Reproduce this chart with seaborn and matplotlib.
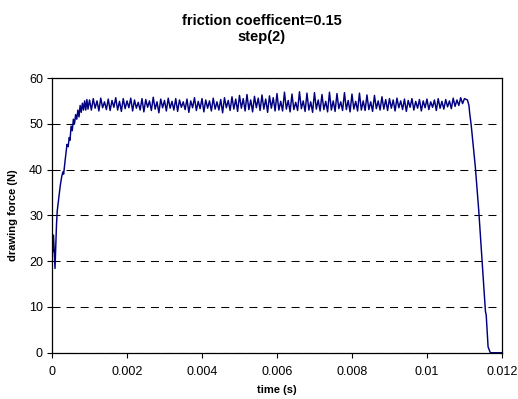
import numpy as np
import seaborn as sns
import matplotlib
matplotlib.use("Agg")
import matplotlib.pyplot as plt
from matplotlib.ticker import FuncFormatter, MultipleLocator

# ---------------------------------------------------------------
# data (time in s, drawing force in N)
# ---------------------------------------------------------------
# start-up ramp
t_ramp = [0, 0.00002, 0.00004, 0.00008, 0.00012, 0.00014, 0.00017, 0.00022,
          0.00026, 0.00029, 0.00031, 0.00035, 0.0004, 0.00043, 0.00046, 0.00048,
          0.00051, 0.00054, 0.00057, 0.0006, 0.00063, 0.00066, 0.00069, 0.00072,
          0.00075, 0.00078, 0.00081, 0.00084, 0.00087, 0.0009, 0.00093, 0.00096]
f_ramp = [27.0, 22.0, 25.7, 18.4, 28.0, 31.0, 33.0, 36.5,
          38.5, 39.5, 39.0, 42.0, 45.5, 45.0, 47.0, 46.4,
          49.5, 48.5, 51.0, 50.0, 52.0, 51.0, 53.0, 51.5,
          54.0, 52.5, 54.5, 53.0, 55.0, 53.0, 55.3, 53.2]

# steady drawing, sampled every 0.00005 s from 0.001 s to 0.011 s
plateau_start = 0.001
plateau_step = 0.00005
f_plateau = [
    55.2, 53.0, 55.5, 53.4, 55.0, 52.8, 55.6, 53.5, 54.8, 53.1,
    55.4, 52.9, 55.1, 53.6, 55.7, 53.0, 54.9, 52.7, 55.5, 53.3,
    55.0, 53.5, 55.6, 52.8, 55.2, 53.4, 54.7, 53.0, 55.5, 52.6,
    55.3, 53.6, 55.0, 52.9, 55.8, 53.2, 54.8, 52.4, 55.4, 53.5,
    55.1, 52.8, 55.6, 53.4, 54.9, 53.0, 55.5, 52.7, 55.2, 53.6,
    54.8, 53.1, 55.4, 52.5, 55.0, 53.5, 55.7, 52.9, 54.9, 53.3,
    55.5, 52.6, 55.2, 53.4, 55.0, 52.8, 55.6, 53.2, 54.8, 53.0,
    55.3, 52.4, 55.7, 53.5, 55.1, 52.9, 55.9, 53.2, 55.4, 52.7,
    56.2, 53.4, 55.5, 52.8, 56.4, 53.1, 55.2, 52.6, 56.0, 53.5,
    55.6, 52.9, 56.3, 53.2, 55.4, 52.5, 56.1, 53.4, 55.7, 52.8,
    56.6, 53.0, 54.9, 52.8, 56.9, 53.2, 55.1, 52.6, 56.5, 53.1,
    54.7, 52.9, 57.0, 53.3, 55.0, 52.7, 56.7, 53.0, 54.8, 52.5,
    56.8, 53.2, 55.2, 52.8, 56.4, 53.1, 54.9, 52.6, 56.9, 53.0,
    55.0, 52.7, 56.6, 53.3, 54.8, 52.9, 56.8, 53.1, 55.1, 52.6,
    56.5, 53.2, 54.9, 52.8, 56.7, 53.0, 55.0, 52.9, 56.3, 53.1,
    54.8, 52.7, 56.2, 53.3, 55.0, 53.0, 55.9, 53.2, 55.3, 52.9,
    55.5, 53.4, 55.2, 52.8, 55.6, 53.5, 55.0, 53.1, 55.4, 52.7,
    55.1, 53.6, 55.5, 53.0, 54.9, 53.4, 55.3, 52.8, 55.0, 53.5,
    55.4, 53.1, 54.8, 53.6, 55.2, 52.9, 55.5, 53.4, 54.9, 53.2,
    55.3, 53.7, 55.0, 53.3, 55.6, 53.8, 55.2, 54.0, 55.7, 54.4,
    55.5,
]

# release at the end of the stroke
t_drop = [0.01108, 0.01112, 0.01114, 0.01118, 0.01129, 0.01138, 0.01147,
          0.01156, 0.01158, 0.01163, 0.01169, 0.012]
f_drop = [55.2, 54.0, 52.3, 49.7, 40.6, 31.2, 20.2,
          9.0, 8.3, 1.3, 0.0, 0.0]

t_plateau = [plateau_start + plateau_step * i for i in range(len(f_plateau))]
time = np.array(t_ramp + t_plateau + t_drop)
force = np.array(f_ramp + f_plateau + f_drop)

# ---------------------------------------------------------------
# plot
# ---------------------------------------------------------------
sns.set_theme(style="white")
plt.rcParams['font.family'] = ['Liberation Sans', 'DejaVu Sans']
plt.rcParams['text.color'] = 'black'
plt.rcParams['axes.labelcolor'] = 'black'

fig = plt.figure(figsize=(5.18, 3.99), dpi=100)
ax = fig.add_axes([0.1004, 0.116, 0.8686, 0.6885])

sns.lineplot(x=time, y=force, ax=ax, color='#000080', linewidth=1.05,
             sort=False, estimator=None)

ax.set_xlim(0, 0.012)
ax.set_ylim(0, 60)
ax.xaxis.set_major_locator(MultipleLocator(0.002))
ax.yaxis.set_major_locator(MultipleLocator(10))
ax.xaxis.set_major_formatter(FuncFormatter(lambda v, p: '%g' % round(v, 6)))

ax.yaxis.grid(True, color='black', linewidth=0.75, linestyle=(0, (7.7, 5.8)))
ax.xaxis.grid(False)
for s in ax.spines.values():
    s.set_color('black')
    s.set_linewidth(0.9)

ax.tick_params(axis='both', direction='out', length=3.5, width=0.8,
               color='black', labelsize=9, labelcolor='black', pad=3)
ax.tick_params(axis='x', bottom=True, pad=6)
ax.tick_params(axis='y', left=True)

ax.set_xlabel('time (s)', fontsize=8, fontweight='bold', labelpad=5)
ax.set_ylabel('drawing force (N)', fontsize=8, fontweight='bold', labelpad=8)

fig.suptitle('friction coefficent=0.15\nstep(2)', x=0.505, y=0.965,
             fontsize=10.5, fontweight='bold', linespacing=1.15,
             color='black')

fig.savefig('out.png', dpi=100)
